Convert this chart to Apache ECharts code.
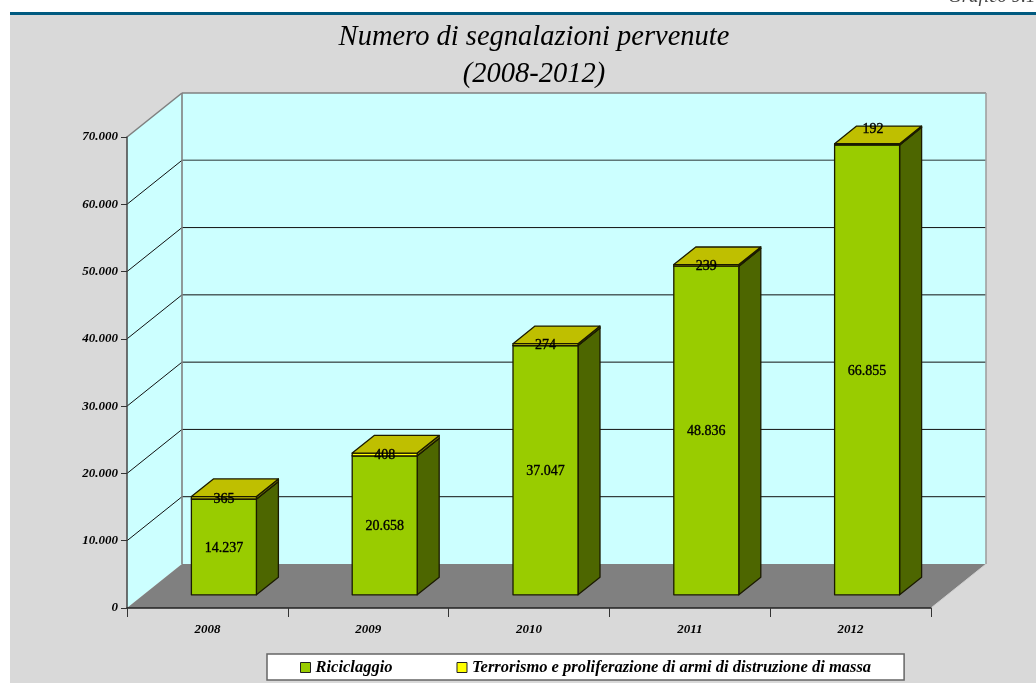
<!DOCTYPE html>
<html><head><meta charset="utf-8">
<style>html,body{margin:0;padding:0;background:#fff}#c{width:1036px;height:683px}</style>
<script src="https://cdn.jsdelivr.net/npm/echarts@6/dist/echarts.min.js"></script>
</head><body><div id="c"></div>
<script>
const years = ['2008','2009','2010','2011','2012'];
const riciclaggio = [14237,20658,37047,48836,66855];
const terrorismo = [365,408,274,239,192];
const titleLines = ['Numero di segnalazioni pervenute','(2008-2012)'];
const seriesNames = ['Riciclaggio','Terrorismo e proliferazione di armi di distruzione di massa'];
const yMax = 70000, yStep = 10000;
const yTicks = [0,10000,20000,30000,40000,50000,60000,70000];
const fmt = v => String(v).replace(/\B(?=(\d{3})+$)/g,'.');

const DX=55, DY=-44;           // depth of the box
const BAR_IN=0.3, BAR_D=0.4;   // bar start and thickness along the depth
const BAR_W=65;
const serif='"Liberation Serif"';

function poly(pts,fill,stroke,lw){
  return {type:'polygon',shape:{points:pts},style:{fill:fill,stroke:stroke||null,lineWidth:lw||0,lineJoin:'round'}};
}
function line(a,b,col,lw){
  return {type:'line',shape:{x1:a[0],y1:a[1],x2:b[0],y2:b[1]},style:{stroke:col,lineWidth:lw}};
}
function renderBox(params,api){
  const cs=params.coordSys;
  const l=cs.x,r=cs.x+cs.width,b=cs.y+cs.height,t=cs.y;
  const kids=[];
  kids.push(poly([[l,b],[l,t],[l+DX,t+DY],[l+DX,b+DY]],'#ccffff'));
  kids.push(poly([[l+DX,b+DY],[l+DX,t+DY],[r+DX,t+DY],[r+DX,b+DY]],'#ccffff'));
  kids.push(poly([[l,b],[l+DX,b+DY],[r+DX,b+DY],[r,b]],'#808080'));
  yTicks.forEach(v=>{
    if(v===0||v===yMax) return;
    const y=api.coord([0,v])[1];
    kids.push(line([l,y],[l+DX,y+DY],'#111',1));
    kids.push(line([l+DX,y+DY],[r+DX,y+DY],v===60000?'#5f7878':'#111',v===60000?1.6:1));
  });
  kids.push(line([l+DX,t+DY],[r+DX,t+DY],'#808080',1.6));
  kids.push(line([l+DX,t+DY],[l+DX,b+DY],'#808080',1.6));
  kids.push(line([r+DX,t+DY],[r+DX,b+DY],'#a0a0a0',1.6));
  kids.push(line([l,t],[l+DX,t+DY],'#808080',1.6));
  kids.push(line([r,b],[r+DX,b+DY],'#d0d0d0',1));
  return {type:'group',children:kids};
}
function barGeom(api,cat,lo,hi){
  const c=api.coord([cat,lo]);
  const top=api.coord([cat,hi])[1];
  const ox=DX*BAR_IN, oy=DY*BAR_IN, dx=DX*BAR_D, dy=DY*BAR_D;
  const x0=c[0]+ox-BAR_W/2, x1=x0+BAR_W;
  return {x0,x1,yb:c[1]+oy,yt:top+oy,dx,dy};
}
function renderBar(front,side,topFill,labelMode){
  return function(params,api){
    const i=api.value(0), lo=api.value(1), hi=api.value(2), shown=api.value(3);
    const g=barGeom(api,i,lo,hi), kids=[], S='#1a1a00', W=1.3;
    kids.push(poly([[g.x1,g.yb],[g.x1+g.dx,g.yb+g.dy],[g.x1+g.dx,g.yt+g.dy],[g.x1,g.yt]],side,S,W));
    kids.push(poly([[g.x0,g.yb],[g.x1,g.yb],[g.x1,g.yt],[g.x0,g.yt]],front,S,W));
    kids.push(poly([[g.x0,g.yt],[g.x1,g.yt],[g.x1+g.dx,g.yt+g.dy],[g.x0+g.dx,g.yt+g.dy]],topFill,S,W));
    let lx=(g.x0+g.x1)/2, ly=(g.yb+g.yt)/2+1;
    if(labelMode==='top'){ ly=g.yb; if(i===4){lx+=6; ly-=16;} }
    kids.push({type:'text',z2:20,style:{text:fmt(shown),x:lx,y:ly,align:'center',verticalAlign:'middle',fill:'#000',stroke:'#000',lineWidth:0.35,font:'14px '+serif}});
    return {type:'group',children:kids};
  };
}
const dataA=years.map((y,i)=>[i,0,riciclaggio[i],riciclaggio[i]]);
const dataB=years.map((y,i)=>[i,riciclaggio[i],riciclaggio[i]+terrorismo[i],terrorismo[i]]);

const chart=echarts.init(document.getElementById('c'),null,{renderer:'canvas'});
chart.setOption({
  animation:false,
  backgroundColor:'#fff',
  graphic:[
    {type:'rect',z:-100,shape:{x:10,y:15,width:1026,height:668},style:{fill:'#d9d9d9'},silent:true},
    {type:'rect',z:-99,shape:{x:10,y:12,width:1026,height:3},style:{fill:'#005a80'},silent:true},
    {type:'text',z:-98,style:{text:'Grafico 9.1',x:948,y:-13,fill:'#444',font:'italic 19px '+serif}}
  ],
  title:{
    text:titleLines.join('\n'),
    left:529,top:14,textAlign:'center',
    textStyle:{fontFamily:serif,fontStyle:'italic',fontWeight:'normal',fontSize:28.5,lineHeight:37,color:'#000'}
  },
  legend:{
    left:267,top:654,padding:[5,33,4,33],itemGap:64,
    itemWidth:10,itemHeight:10,
    backgroundColor:'#fff',borderColor:'#666',borderWidth:1.5,
    data:seriesNames.map(n=>({name:n,icon:'rect',itemStyle:{borderColor:'#222',borderWidth:1}})),
    textStyle:{fontFamily:serif,fontStyle:'italic',fontWeight:'bold',fontSize:16.5,color:'#000'}
  },
  grid:{left:127,top:137,width:804,height:471,containLabel:false},
  xAxis:{
    type:'category',data:years,boundaryGap:true,
    axisLine:{show:true,lineStyle:{color:'#222',width:1.5}},
    axisTick:{show:true,length:9,alignWithLabel:false,lineStyle:{color:'#333',width:1}},
    axisLabel:{margin:15,color:'#000',fontFamily:serif,fontStyle:'italic',fontWeight:'bold',fontSize:13},
    z:5
  },
  yAxis:{
    type:'value',min:0,max:yMax,interval:yStep,
    axisLine:{show:true,lineStyle:{color:'#444',width:1.5}},
    axisTick:{show:true,length:6,lineStyle:{color:'#333',width:1}},
    splitLine:{show:false},
    axisLabel:{margin:9,color:'#000',fontFamily:serif,fontStyle:'italic',fontWeight:'bold',fontSize:13,formatter:v=>fmt(v)},
    z:5
  },
  series:[
    {type:'custom',name:'box',silent:true,z:-1,clip:false,coordinateSystem:'cartesian2d',data:[[0,0]],encode:{x:0,y:1},renderItem:renderBox},
    {type:'custom',name:seriesNames[0],z:2,clip:false,itemStyle:{color:'#99cc00'},data:dataA,encode:{x:0,y:[1,2]},
      renderItem:renderBar('#99cc00','#4d6600','#bfbf00','mid')},
    {type:'custom',name:seriesNames[1],z:3,clip:false,itemStyle:{color:'#ffff00'},data:dataB,encode:{x:0,y:[1,2]},
      renderItem:renderBar('#ffff00','#808000','#bfbf00','top')}
  ]
});
</script></body></html>
